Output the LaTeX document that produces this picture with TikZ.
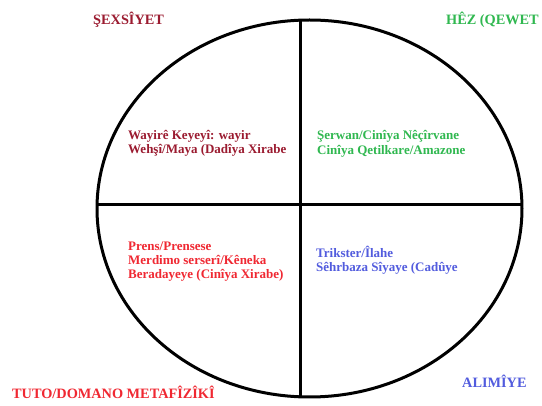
\documentclass[tikz,border=0pt]{standalone}
\usepackage{fontspec}
\setmainfont{Liberation Serif}
\definecolor{cdred}{RGB}{155,27,48}
\definecolor{cgreen}{RGB}{48,184,80}
\definecolor{cred}{RGB}{240,40,50}
\definecolor{cblue}{RGB}{82,92,222}
\tikzset{
  frameline/.style={line width=3pt, black},
  title/.style={font=\bfseries\fontsize{14.3}{16}\selectfont, inner sep=0pt, anchor=base west},
  body/.style={font=\bfseries\fontsize{13}{14.4}\selectfont, inner sep=0pt, anchor=base west, align=left},
}
\begin{document}
\begin{tikzpicture}[x=1pt,y=-1pt]
\useasboundingbox (0,0) rectangle (542,406);
\fill[white] (0,0) rectangle (542,406);
\draw[frameline] (309.5,208.5) ellipse [x radius=212.5, y radius=188.5];
\coordinate (top) at (300,20.5);
\coordinate (bottom) at (300,397.5);
\coordinate (left) at (97,205);
\coordinate (right) at (522,205);
\draw[frameline] (top) -- (bottom);
\draw[frameline] (left) -- (right);
\node[title, text=cdred] (t1) at (93,25) {ŞEXSÎYET};
\node[title, text=cgreen] (t2) at (446,25) {HÊZ (QEWET};
\node[title, text=cred] (t3) at (12,399) {TUTO/DOMANO METAFÎZÎKÎ};
\node[title, text=cblue] (t4) at (462,388) {ALIMÎYE};
\node[body, text=cdred] (b1) at (128,153.8) {Wayirê Keyeyî: wayir\\Wehşî/Maya (Dadîya Xirabe};
\node[body, text=cgreen] (b2) at (317,154.3) {Şerwan/Cinîya Nêçîrvane\\Cinîya Qetilkare/Amazone};
\node[body, text=cred] (b3) at (128,279) {Prens/Prensese\\Merdimo serserî/Kêneka\\Beradayeye (Cinîya Xirabe)};
\node[body, text=cblue] (b4) at (316,272) {Trikster/Îlahe\\Sêhrbaza Sîyaye (Cadûye};
\end{tikzpicture}
\end{document}
